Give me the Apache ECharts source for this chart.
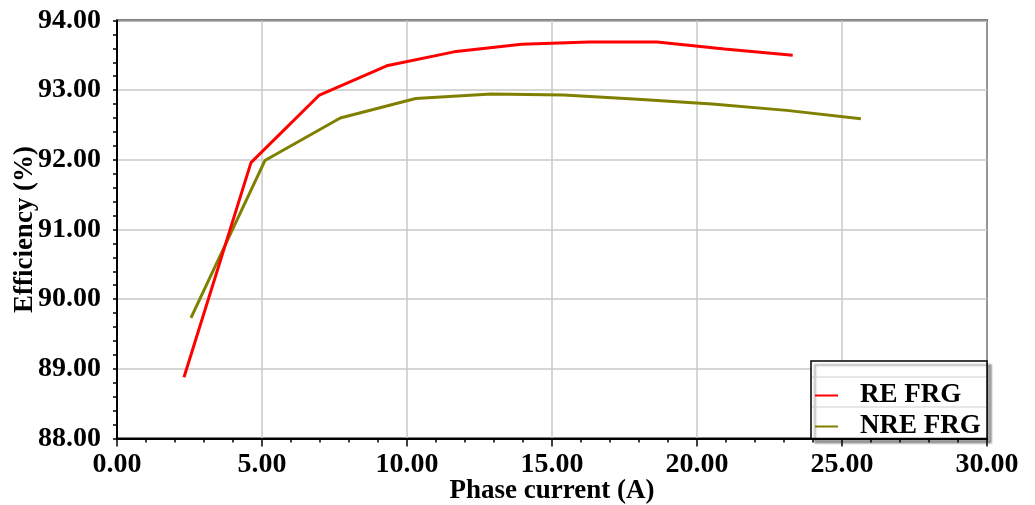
<!DOCTYPE html>
<html>
<head>
<meta charset="utf-8">
<script src="https://cdn.jsdelivr.net/npm/echarts@6/dist/echarts.min.js"></script>
<style>
  html, body { margin: 0; padding: 0; background: #fff; }
  #chart { width: 1035px; height: 505px; }
</style>
</head>
<body>
<div id="chart"></div>
<script>
// Phase current (A) and efficiency (%) for the two generator variants
const seriesNames = ['RE FRG', 'NRE FRG'];
const reCurrent    = [2.31, 4.62, 6.98, 9.30, 11.62, 13.95, 16.28, 18.62, 20.95, 23.30];
const reEfficiency = [88.88, 91.96, 92.93, 93.35, 93.55, 93.66, 93.69, 93.69, 93.59, 93.50];
const nreCurrent    = [2.55, 5.10, 7.70, 10.30, 12.90, 15.40, 17.96, 20.52, 23.09, 25.65];
const nreEfficiency = [89.73, 91.99, 92.60, 92.88, 92.945, 92.93, 92.87, 92.80, 92.71, 92.59];

const xTicks = { min: 0, max: 30, interval: 5 };
const yTicks = { min: 88, max: 94, interval: 1 };

const serif = '"Liberation Serif", "DejaVu Serif", serif';
const pairs = (xs, ys) => xs.map((x, i) => [x, ys[i]]);

const chart = echarts.init(document.getElementById('chart'), null, { renderer: 'canvas' });

const gridLeft = 117, gridTop = 20.5, gridRight = 48, gridBottom = 66.5;
const plotRight = 1035 - gridRight, plotBottom = 505 - gridBottom;

chart.setOption({
  animation: false,
  backgroundColor: '#fff',
  grid: {
    left: gridLeft, top: gridTop, right: gridRight, bottom: gridBottom,
    containLabel: false,
    outerBoundsMode: 'none',
    show: true, borderColor: '#000', borderWidth: 2, backgroundColor: '#fff'
  },
  xAxis: {
    type: 'value',
    min: xTicks.min, max: xTicks.max, interval: xTicks.interval,
    name: 'Phase current (A)',
    nameLocation: 'middle',
    nameGap: 39,
    nameMoveOverlap: false,
    nameTextStyle: { fontFamily: serif, fontWeight: 'bold', fontSize: 27, color: '#000' },
    axisLine: { show: true, lineStyle: { color: '#000', width: 2 } },
    axisTick: { show: true, length: 8, lineStyle: { color: '#000', width: 1.5 } },
    minorTick: { show: true, splitNumber: 5, length: 4, lineStyle: { color: '#000', width: 1.5 } },
    axisLabel: {
      fontFamily: serif, fontWeight: 'bold', fontSize: 28, color: '#000', margin: 12,
      formatter: v => v.toFixed(2)
    },
    splitLine: { show: true, lineStyle: { color: '#c8c8c8', width: 1.5 } }
  },
  yAxis: {
    type: 'value',
    min: yTicks.min, max: yTicks.max, interval: yTicks.interval,
    name: 'Efficiency (%)',
    nameLocation: 'middle',
    nameGap: 78,
    nameMoveOverlap: false,
    nameRotate: 90,
    nameTextStyle: { fontFamily: serif, fontWeight: 'bold', fontSize: 27, color: '#000' },
    axisLine: { show: true, lineStyle: { color: '#000', width: 2 } },
    axisTick: { show: true, length: 4, lineStyle: { color: '#000', width: 1.5 } },
    minorTick: { show: true, splitNumber: 5, length: 4, lineStyle: { color: '#000', width: 1.5 } },
    axisLabel: {
      fontFamily: serif, fontWeight: 'bold', fontSize: 28, color: '#000', margin: 16,
      formatter: v => v.toFixed(2)
    },
    splitLine: { show: true, lineStyle: { color: '#c8c8c8', width: 1.5 } }
  },
  legend: {
    orient: 'vertical',
    left: 810, top: 377,
    itemWidth: 23, itemHeight: 2, itemGap: 4,
    icon: 'rect',
    z: 20,
    textStyle: {
      fontFamily: serif, fontWeight: 'bold', fontSize: 27, color: '#000',
      padding: [0, 0, 0, 17], lineHeight: 26
    },
    data: seriesNames
  },
  graphic: [
    {
      type: 'rect', z: 15,
      shape: { x: 811, y: 361, width: plotRight - 811, height: plotBottom - 361 },
      style: {
        fill: '#fff', stroke: '#000', lineWidth: 1.5,
        shadowColor: 'rgba(0,0,0,0.35)', shadowOffsetX: 4, shadowOffsetY: 4, shadowBlur: 2
      }
    },
    {
      type: 'line', z: 16,
      shape: { x1: 812, y1: 377, x2: plotRight - 1, y2: 377 },
      style: { stroke: '#d0d0d0', lineWidth: 1.2 }
    },
    {
      type: 'line', z: 16,
      shape: { x1: 812, y1: 407, x2: plotRight - 1, y2: 407 },
      style: { stroke: '#d0d0d0', lineWidth: 1.2 }
    }
  ],
  series: [
    {
      name: seriesNames[0], type: 'line', symbol: 'none', smooth: false,
      itemStyle: { color: '#ff0000' },
      lineStyle: { color: '#ff0000', width: 3 },
      data: pairs(reCurrent, reEfficiency), z: 5
    },
    {
      name: seriesNames[1], type: 'line', symbol: 'none', smooth: false,
      itemStyle: { color: '#808000' },
      lineStyle: { color: '#808000', width: 3 },
      data: pairs(nreCurrent, nreEfficiency), z: 4
    }
  ]
});
</script>
</body>
</html>
